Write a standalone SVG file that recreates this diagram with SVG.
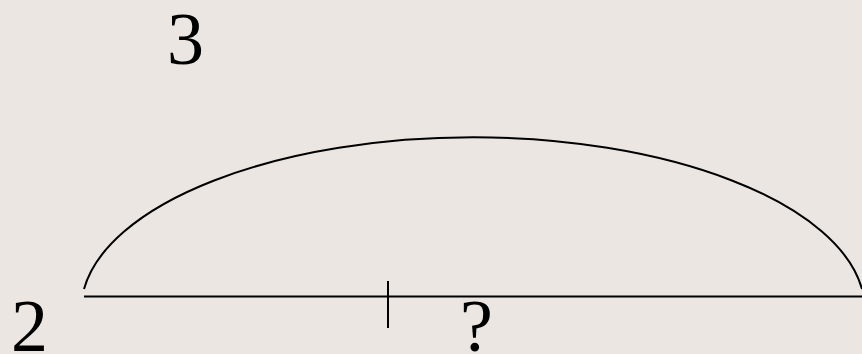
<svg xmlns="http://www.w3.org/2000/svg" width="862" height="354" viewBox="0 0 862 354">
<style>
.t{font-family:"Liberation Serif","Times New Roman",serif;font-size:74px;fill:#000}
.s{stroke:#000;stroke-width:2;fill:none}
</style>
<rect width="862" height="354" fill="#ebe6e2"/>
<g id="connectors">
<path class="s" d="M84,289 A392,173 0 0 1 862,289"/>
<line class="s" x1="84" y1="296.5" x2="862" y2="296.5"/>
<line class="s" x1="388" y1="281" x2="388" y2="328"/>
</g>
<g id="label3"><text class="t" x="167" y="64">3</text></g>
<g id="label2"><text class="t" x="11" y="351">2</text></g>
<g id="labelQ"><text class="t" x="460" y="351">?</text></g>
</svg>
